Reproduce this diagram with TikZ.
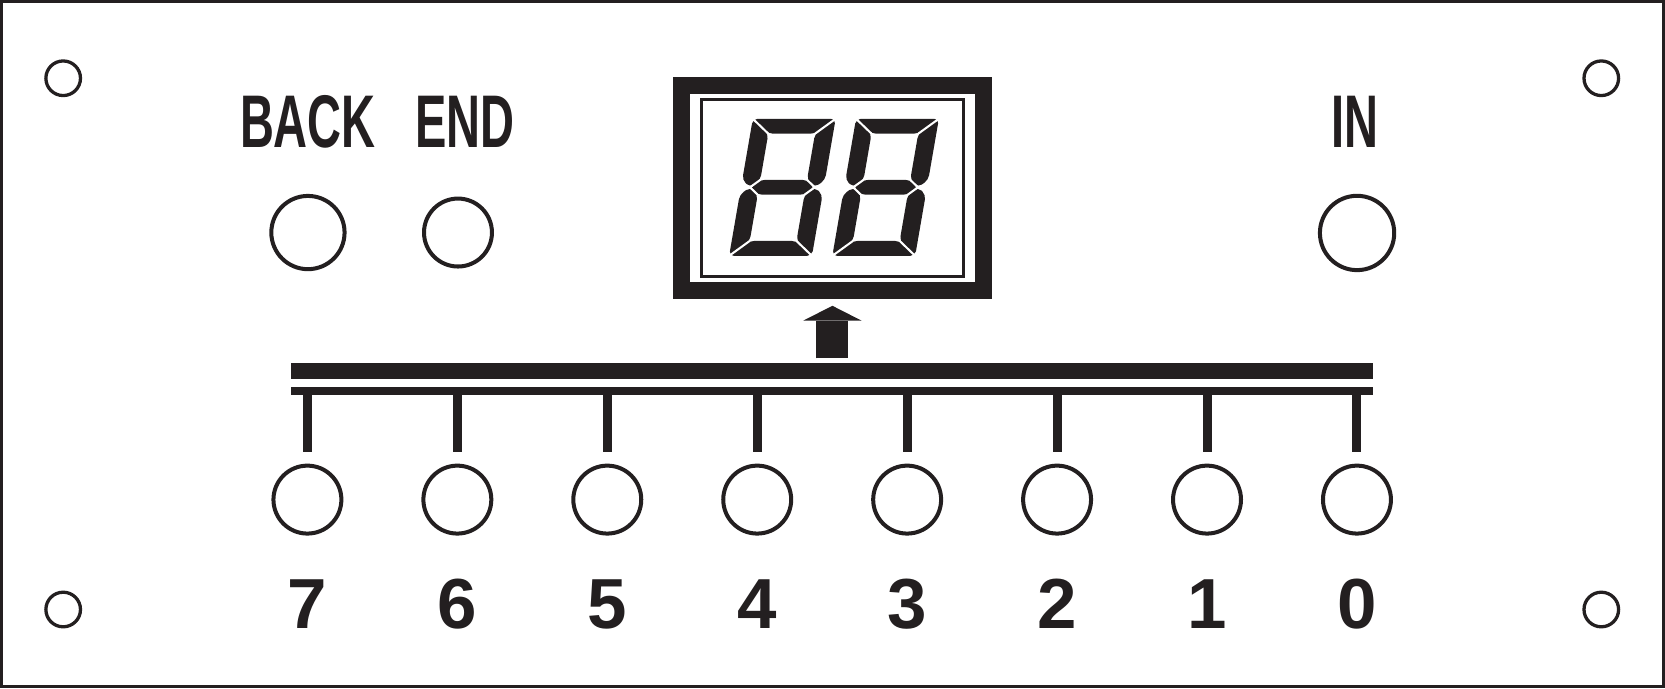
\documentclass[tikz,border=0pt]{standalone}
\usepackage{fontspec}
\setmainfont{Liberation Sans}
\usepackage{graphicx,xcolor}
\usepackage{tikz}
\usetikzlibrary{shapes,arrows.meta,positioning,calc}
\definecolor{ink}{HTML}{231F20}
\newcommand{\squeeze}[1]{\scalebox{0.63}[1]{#1}}
% one slanted seven segment digit, centred at #1
\newcommand{\lcddigit}[1]{%
  \begin{scope}[shift={(#1)}, xslant=0.173]
    \fill[seg] (-39,-64.5) -- (39,-64.5) -- (22,-50.5) -- (-22,-50.5) -- cycle;
    \fill[seg] (-39,64.5) -- (39,64.5) -- (22,50.5) -- (-22,50.5) -- cycle;
    \fill[seg] (-30.5,0) -- (-22,-7) -- (22,-7) -- (30.5,0) -- (22,7) -- (-22,7) -- cycle;
    \fill[seg] (-39,-64.5) -- (-22,-50.5) -- (-22,-7) -- (-30.5,0) -- (-39,-7) -- cycle;
    \fill[seg] (-39,64.5) -- (-22,50.5) -- (-22,7) -- (-30.5,0) -- (-39,7) -- cycle;
    \fill[seg] (39,-64.5) -- (22,-50.5) -- (22,-7) -- (30.5,0) -- (39,-7) -- cycle;
    \fill[seg] (39,64.5) -- (22,50.5) -- (22,7) -- (30.5,0) -- (39,7) -- cycle;
    % gaps between the segments
    \draw[seggap] (-41,-66.2) -- (-22,-50.5);
    \draw[seggap] (41,-66.2) -- (22,-50.5);
    \draw[seggap] (-41,66.2) -- (-22,50.5);
    \draw[seggap] (41,66.2) -- (22,50.5);
    \draw[seggap] (-22,-7) -- (-30.5,0) -- (-22,7);
    \draw[seggap] (22,-7) -- (30.5,0) -- (22,7);
  \end{scope}}
\tikzstyle{pushbtn} = [circle, draw=ink, line width=2.15pt, minimum size=1.28cm, inner sep=0pt, outer sep=0pt]
\tikzstyle{hole} = [circle, draw=ink, line width=1.76pt, minimum size=0.652cm, inner sep=0pt, outer sep=0pt]
\tikzstyle{lcdframe} = [rectangle, draw=ink, line width=8.9pt, minimum width=5.686cm, minimum height=3.862cm, inner sep=0pt, outer sep=0pt]
\tikzstyle{lcdwindow} = [rectangle, draw=ink, line width=1.76pt, minimum width=4.93cm, minimum height=3.33cm, inner sep=0pt, outer sep=0pt]
\tikzstyle{busbar} = [rectangle, fill=ink, minimum width=20.38cm, minimum height=0.30cm, inner sep=0pt, outer sep=0pt]
\tikzstyle{rail} = [rectangle, fill=ink, minimum width=20.38cm, minimum height=0.16cm, inner sep=0pt, outer sep=0pt]
\tikzstyle{stub} = [draw=ink, line width=4.8pt]
\tikzstyle{uparrow} = [draw=ink, line width=17.2pt, -{Triangle[width=1.1cm, length=0.28cm, line width=0pt]}]
\tikzstyle{seg} = [fill=ink, rounded corners=2.5pt]
\tikzstyle{seggap} = [draw=white, line width=1.1pt]
\tikzstyle{keylabel} = [anchor=base, inner sep=0pt, text=ink, font=\fontsize{40}{40}\selectfont\bfseries]
\tikzstyle{numlabel} = [anchor=base, inner sep=0pt, text=ink, font=\fontsize{38}{38}\selectfont\bfseries]

\begin{document}
\begin{tikzpicture}[x=0.02cm, y=-0.02cm]
\useasboundingbox (0,0) rectangle (1568,648);
\draw[ink, line width=1.87pt] (1.65,1.65) rectangle (1566.35,646.35);
% mounting holes
\node (h1) [hole] at (59.5,73.7) {};
\node (h2) [hole] at (1508,73.7) {};
\node (h3) [hole] at (59.5,574) {};
\node (h4) [hole] at (1508,574) {};
% top keys
\node (lback) [keylabel] at (290,139) {\squeeze{BACK}};
\node (lend) [keylabel] at (438,139) {\squeeze{END}};
\node (lin) [keylabel] at (1276,139) {\squeeze{IN}};
\node (kback) [pushbtn, minimum size=1.38cm] at (290,219) {};
\node (kend) [pushbtn] at (431.3,219) {};
\node (kin) [pushbtn, minimum size=1.40cm] at (1278,219.4) {};
% display
\node (lcd) [lcdframe] at (783.9,177.2) {};
\node (win) [lcdwindow] at (783.9,177.2) {};
\lcddigit{736.8,176.4}
\lcddigit{834,176.4}
% bus
\node (bus) [busbar] at (783.9,349.5) {};
\node (rail) [rail] at (783.9,368) {};
\draw [uparrow] ($(bus.north)+(0,-4.6)$) -- ($(lcd.south)+(0,14.25)$);
% bit keys
\node (k7) [pushbtn] at (289.5,470.5) {};
\node (k6) [pushbtn] at (430.7,470.5) {};
\node (k5) [pushbtn] at (571.9,470.5) {};
\node (k4) [pushbtn] at (713.1,470.5) {};
\node (k3) [pushbtn] at (854.3,470.5) {};
\node (k2) [pushbtn] at (995.5,470.5) {};
\node (k1) [pushbtn] at (1136.7,470.5) {};
\node (k0) [pushbtn] at (1277.9,470.5) {};
\draw [stub] (k7 |- rail.south) -- ($(k7.north)+(0,-13)$);
\draw [stub] (k6 |- rail.south) -- ($(k6.north)+(0,-13)$);
\draw [stub] (k5 |- rail.south) -- ($(k5.north)+(0,-13)$);
\draw [stub] (k4 |- rail.south) -- ($(k4.north)+(0,-13)$);
\draw [stub] (k3 |- rail.south) -- ($(k3.north)+(0,-13)$);
\draw [stub] (k2 |- rail.south) -- ($(k2.north)+(0,-13)$);
\draw [stub] (k1 |- rail.south) -- ($(k1.north)+(0,-13)$);
\draw [stub] (k0 |- rail.south) -- ($(k0.north)+(0,-13)$);
\node (n7) [numlabel] at (289.5,591.5) {7};
\node (n6) [numlabel] at (430.7,591.5) {6};
\node (n5) [numlabel] at (571.9,591.5) {5};
\node (n4) [numlabel] at (713.1,591.5) {4};
\node (n3) [numlabel] at (854.3,591.5) {3};
\node (n2) [numlabel] at (995.5,591.5) {2};
\node (n1) [numlabel] at (1136.7,591.5) {1};
\node (n0) [numlabel] at (1277.9,591.5) {0};
\end{tikzpicture}
\end{document}
